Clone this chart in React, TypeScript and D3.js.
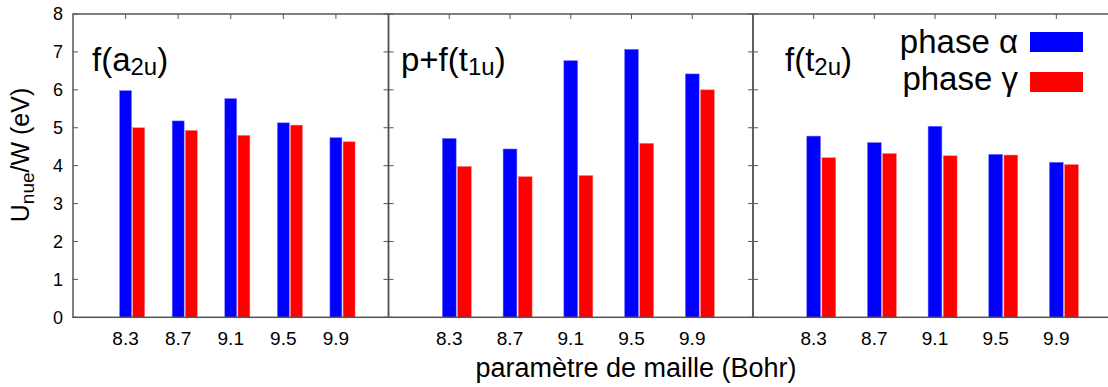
import React from 'react';
import * as d3 from 'd3';

const categories = ['8.3', '8.7', '9.1', '9.5', '9.9'];
const yTicks = [0, 1, 2, 3, 4, 5, 6, 7, 8];
const alphaA2u = [5.98, 5.18, 5.77, 5.13, 4.74];
const gammaA2u = [5.0, 4.93, 4.8, 5.07, 4.63];
const alphaT1u = [4.72, 4.44, 6.77, 7.07, 6.42];
const gammaT1u = [3.98, 3.71, 3.74, 4.59, 6.0];
const alphaT2u = [4.78, 4.61, 5.04, 4.3, 4.09];
const gammaT2u = [4.21, 4.32, 4.26, 4.28, 4.03];
const seriesNames = ['phase α', 'phase γ'];
const colors = ['#0000ff', '#ff0000'];

const FONT = '"Liberation Sans", Arial, Helvetica, sans-serif';

const panels = [
  { x0: 73, x1: 388.5, alpha: alphaA2u, gamma: gammaA2u, pre: 'f(a', sub: '2u', post: ')', lx: 92 },
  { x0: 388.5, x1: 753, alpha: alphaT1u, gamma: gammaT1u, pre: 'p+f(t', sub: '1u', post: ')', lx: 401 },
  { x0: 753, x1: 1117, alpha: alphaT2u, gamma: gammaT2u, pre: 'f(t', sub: '2u', post: ')', lx: 785 },
];

export default function App() {
  const W = 1108, H = 387;
  const y = d3.scaleLinear().domain([0, 8]).range([317.3, 14]);
  const frame = '#555';
  const barW = 0.228;
  const tickLen = 5;
  return (
    <svg width={W} height={H} style={{ position: 'absolute', left: 0, top: 0, background: '#fff' }}
      fontFamily={FONT}>
      <rect x={0} y={0} width={W} height={H} fill="#fff" />
      {panels.map((p, pi) => {
        const x = d3.scaleLinear().domain([0, 6]).range([p.x0, p.x1]);
        return (
          <g key={pi}>
            {yTicks.map(t => (
              <g key={t}>
                <line x1={p.x0} x2={p.x0 + tickLen} y1={y(t)} y2={y(t)} stroke={frame} strokeWidth={1} />
                <line x1={p.x1} x2={p.x1 - tickLen} y1={y(t)} y2={y(t)} stroke={frame} strokeWidth={1} />
              </g>
            ))}
            {categories.map((c, i) => (
              <g key={c}>
                <line x1={x(i + 1)} x2={x(i + 1)} y1={y(8)} y2={y(8) + tickLen} stroke={frame} strokeWidth={1} />
                <line x1={x(i + 1)} x2={x(i + 1)} y1={y(0)} y2={y(0) - tickLen} stroke={frame} strokeWidth={1} />
                <text x={x(i + 1)} y={345} textAnchor="middle" fontSize={19} fill="#000">{c}</text>
              </g>
            ))}
            {p.alpha.map((v, i) => (
              <rect key={'a' + i} x={x(i + 1 - barW / 2)} width={x(barW) - x(0)} y={y(v)} height={y(0) - y(v)}
                fill={colors[0]} stroke="#8080ff" strokeWidth={0.5} />
            ))}
            {p.gamma.map((v, i) => (
              <rect key={'g' + i} x={x(i + 1.25 - barW / 2)} width={x(barW) - x(0)} y={y(v)} height={y(0) - y(v)}
                fill={colors[1]} stroke="#ff8080" strokeWidth={0.5} />
            ))}
            <rect x={p.x0} y={y(8)} width={p.x1 - p.x0} height={y(0) - y(8)} fill="none" stroke={frame} strokeWidth={1.5} />
            <text x={p.lx} y={71} fontSize={33} fill="#000">
              {p.pre}
              <tspan fontSize={24} dy={4}>{p.sub}</tspan>
              <tspan dy={-4}>{p.post}</tspan>
            </text>
          </g>
        );
      })}
      {yTicks.map(t => (
        <text key={t} x={63} y={y(t)} dy="0.36em" textAnchor="end" fontSize={18} fill="#000">{t}</text>
      ))}
      <text transform={`translate(29,155) rotate(-90)`} textAnchor="middle" fontSize={25} fill="#000">
        U<tspan fontSize={19} dy={5}>nue</tspan><tspan dy={-5}>/W (eV)</tspan>
      </text>
      <text x={636} y={377} textAnchor="middle" fontSize={27} fill="#000">paramètre de maille (Bohr)</text>
      {seriesNames.map((s, i) => (
        <g key={s}>
          <text x={1018} y={53 + i * 37} textAnchor="end" fontSize={33} fill="#000">{s}</text>
          <rect x={1030} y={32 + i * 40} width={53} height={20} fill={colors[i]} />
        </g>
      ))}
    </svg>
  );
}
